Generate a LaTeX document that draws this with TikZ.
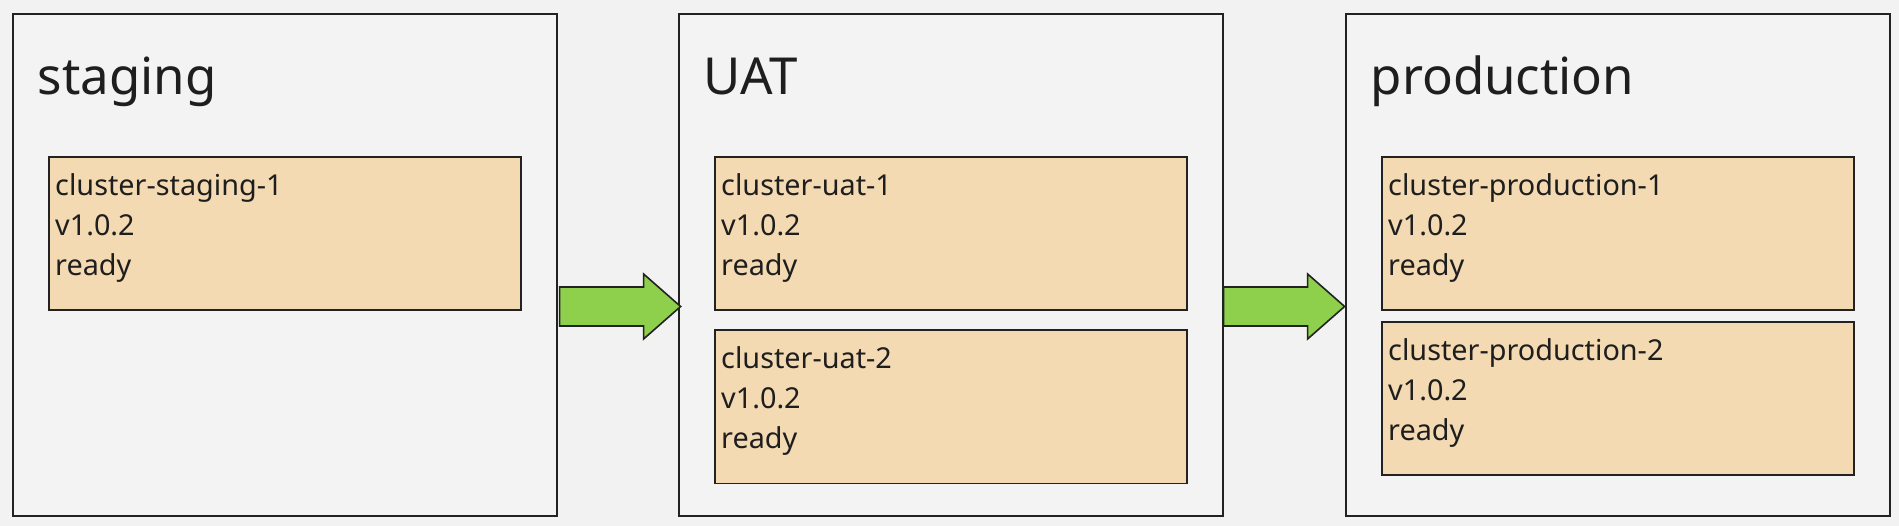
\documentclass[tikz,border=0pt]{standalone}
\usepackage{fontspec}
\setmainfont{Noto Sans}
\usetikzlibrary{calc}
\definecolor{bgc}{HTML}{F2F2F2}
\definecolor{envfill}{HTML}{F3F3F3}
\definecolor{clfill}{HTML}{F3DAB2}
\definecolor{arrowgreen}{HTML}{8ED04C}
\definecolor{linec}{HTML}{222222}
\definecolor{textc}{HTML}{1E1E1E}
\tikzset{
  envbox/.style={draw=linec, line width=1.6pt, fill=envfill, rectangle, inner sep=0pt,
    minimum width=544pt, minimum height=502pt, anchor=north west},
  clbox/.style={draw=linec, line width=1.6pt, fill=clfill, rectangle, inner sep=0pt,
    minimum width=472pt, minimum height=153pt, anchor=north west},
  envtitle/.style={font=\fontsize{51}{61}\selectfont, text=textc, inner sep=0pt, anchor=base west},
  cltext/.style={font=\fontsize{28.8}{40}\selectfont, text=textc, inner sep=0pt, align=left, anchor=north west},
  blockarrow/.style={draw=linec, line width=1.6pt, fill=arrowgreen, line join=miter}
}
\newcommand{\blockarrowpath}[1]{%
  \draw[blockarrow] ($(#1)+(0,-19.5)$) -- ++(84,0) -- ++(0,-13) -- ++(37,32.5)
    -- ++(-37,32.5) -- ++(0,-13) -- ++(-84,0) -- cycle;}
\begin{document}
\begin{tikzpicture}[x=1pt,y=-1pt]
\fill[bgc] (0,0) rectangle (1899,526);
\useasboundingbox (0,0) rectangle (1899,526);

% environments
\node[envbox] (staging) at (12,13) {};
\node[envbox] (uat) at (678,13) {};
\node[envbox] (prod) at (1345,13) {};

\node[envtitle] (stagingT) at ($(staging.north west)+(25.5,82)$) {staging};
\node[envtitle] (uatT) at ($(uat.north west)+(25.5,82)$) {UAT};
\node[envtitle] (prodT) at ($(prod.north west)+(25.5,82)$) {production};

% clusters
\node[clbox] (cs1) at ($(staging.north west)+(36,143)$) {};
\node[clbox] (cu1) at ($(uat.north west)+(36,143)$) {};
\node[clbox] (cu2) at ($(uat.north west)+(36,316.5)$) {};
\node[clbox] (cp1) at ($(prod.north west)+(36,143)$) {};
\node[clbox] (cp2) at ($(prod.north west)+(36,308)$) {};

\node[cltext] (cs1t) at ($(cs1.north west)+(7,17.1)$) {cluster-staging-1\\v1.0.2\\ready};
\node[cltext] (cu1t) at ($(cu1.north west)+(7,17.1)$) {cluster-uat-1\\v1.0.2\\ready};
\node[cltext] (cu2t) at ($(cu2.north west)+(7,17.1)$) {cluster-uat-2\\v1.0.2\\ready};
\node[cltext] (cp1t) at ($(cp1.north west)+(7,17.1)$) {cluster-production-1\\v1.0.2\\ready};
\node[cltext] (cp2t) at ($(cp2.north west)+(7,17.1)$) {cluster-production-2\\v1.0.2\\ready};

% arrows
\coordinate (a1) at ($(staging.north east)+(2,293.5)$);
\coordinate (a2) at ($(uat.north east)+(0,293.5)$);
\blockarrowpath{a1}
\blockarrowpath{a2}
\end{tikzpicture}
\end{document}
